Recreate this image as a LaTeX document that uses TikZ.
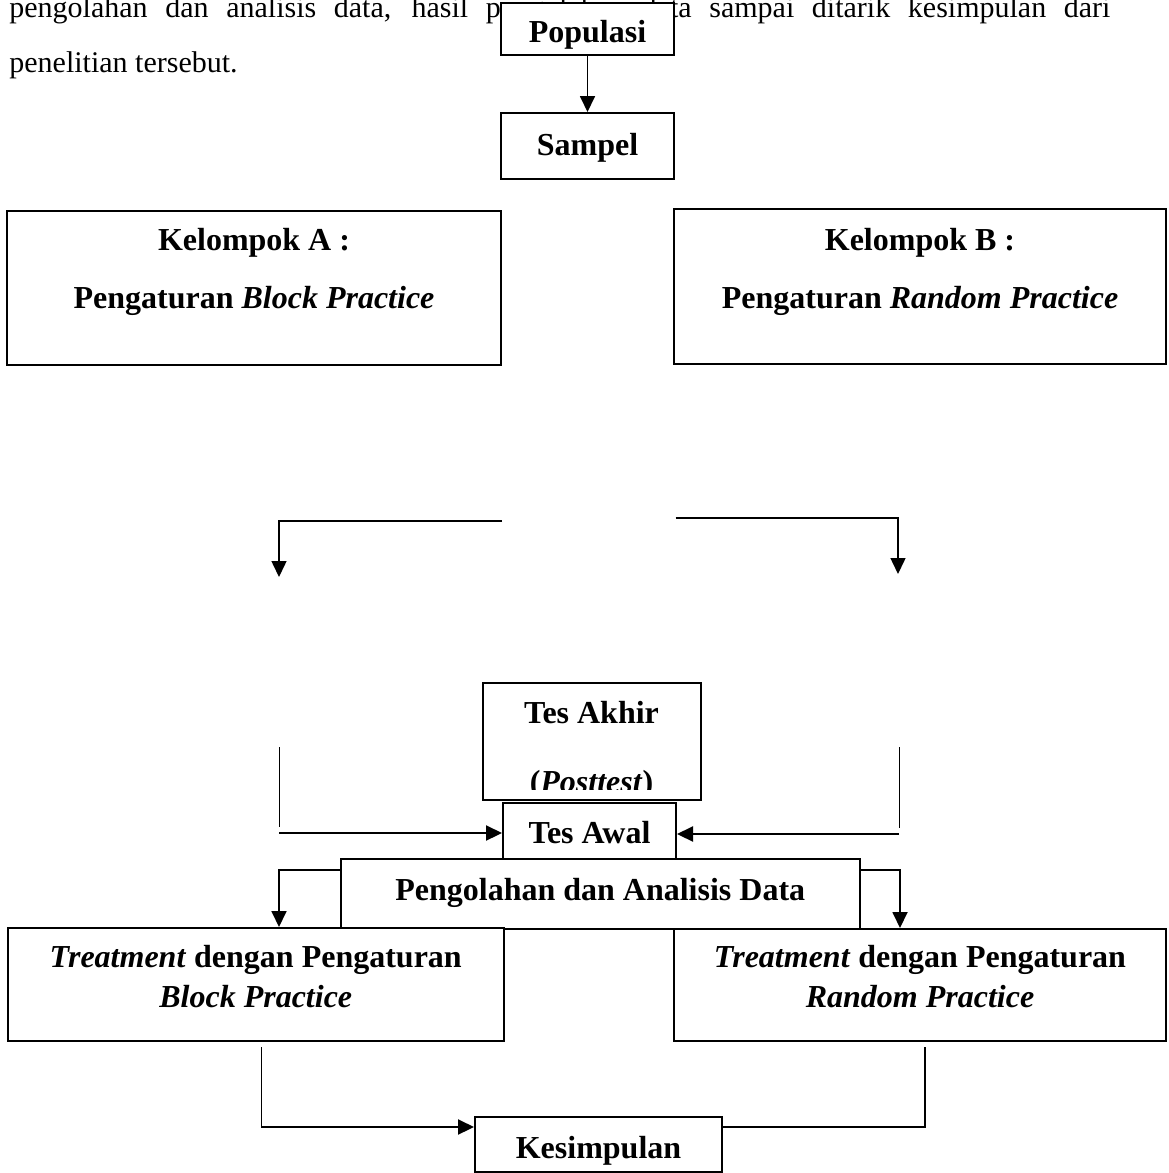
\documentclass[tikz,border=0pt]{standalone}
\usepackage{fontspec}
\setmainfont{Liberation Serif}
\usetikzlibrary{arrows.meta, fit}

\begin{document}
\begin{tikzpicture}[x=0.5pt, y=-0.5pt,
    kotak/.style={draw, rectangle, fill=white, line width=1pt, inner sep=0pt},
    teks/.style={anchor=base, inner sep=0pt, font=\fontsize{16}{19}\selectfont\bfseries},
    para/.style={anchor=base west, inner sep=0pt, font=\fontsize{15}{18}\selectfont},
    arr/.style={-{Triangle[length=8pt, width=7.5pt]}, line width=0.9pt},
    garis/.style={line width=0.5pt}]
    \useasboundingbox (0,0) rectangle (1168,1173);
    % teks paragraf di atas bagan
    \node[para] (par1) at (9,17) {\makebox[550.5pt][s]{pengolahan dan analisis data, hasil pengolahan data sampai ditarik kesimpulan dari}};
    \node[para] (par2) at (9,72) {penelitian tersebut.};
    % kotak
    \node[kotak, fit={(501,3) (674,55)}] (pop) {};
    \node[kotak, fit={(501,113) (674,179)}] (smp) {};
    \node[kotak, fit={(7,211) (501,365)}] (grpA) {};
    \node[kotak, fit={(674,209) (1166,364)}] (grpB) {};
    \node[kotak, fit={(482.5,682.5) (700.5,800)}] (akhir) {};
    \node[kotak, fit={(503,803) (676,861)}] (awal) {};
    \node[kotak, fit={(340.5,858.5) (860,929)}] (olah) {};
    \node[kotak, fit={(8,928) (503.5,1040.5)}] (trtA) {};
    \node[kotak, fit={(674,929) (1166,1040.5)}] (trtB) {};
    \node[kotak, fit={(475,1117) (722,1172)}] (simp) {};
    % isi kotak
    \node[teks] (popT) at (587.5,42) {Populasi};
    \node[teks] (smpT) at (587.5,155) {Sampel};
    \node[teks] (grpA1) at (254,250) {Kelompok A :};
    \node[teks] (grpA2) at (254,308) {Pengaturan \textit{Block Practice}};
    \node[teks] (grpB1) at (920,250) {Kelompok B :};
    \node[teks] (grpB2) at (920,308) {Pengaturan \textit{Random Practice}};
    \node[teks] (akhir1) at (591.5,723) {Tes Akhir};
    \begin{scope}
      \clip (482.5,682.5) rectangle (700.5,789.5);
      \node[teks] (akhir2) at (591.5,792) {(\textit{Posttest})};
    \end{scope}
    \node[teks] (awalT) at (589.5,843) {Tes Awal};
    \node[teks] (olahT) at (600.25,900) {Pengolahan dan Analisis Data};
    \node[teks] (trtA1) at (255.75,967) {\textit{Treatment} dengan Pengaturan};
    \node[teks] (trtA2) at (255.75,1007) {\textit{Block Practice}};
    \node[teks] (trtB1) at (920,967) {\textit{Treatment} dengan Pengaturan};
    \node[teks] (trtB2) at (920,1007) {\textit{Random Practice}};
    \node[teks] (simpT) at (598.5,1158) {Kesimpulan};
    % titik bebas
    \coordinate (cabL) at (502,521);
    \coordinate (panL) at (279,577);
    \coordinate (cabR) at (675.5,518);
    \coordinate (panR) at (898,574);
    \coordinate (atasL) at (279,747);
    \coordinate (bawahL) at (279,827);
    \coordinate (masukL) at (279,833);
    \coordinate (atasR) at (899,747);
    \coordinate (bawahR) at (899,828);
    \coordinate (masukR) at (899,834);
    \coordinate (naikL) at (261,1047);
    \coordinate (sudutL) at (261,1127);
    \coordinate (naikR) at (925,1047);
    % panah
    \draw[arr] (pop) -- (smp);
    \draw[arr, line width=0.75pt] (cabL) -| (panL);
    \draw[arr, line width=0.75pt] (cabR) -| (panR);
    \draw[garis] (atasL) -- (bawahL);
    \draw[garis] (atasR) -- (bawahR);
    \draw[arr, line width=1.1pt] (masukL) -- (awal.west |- masukL);
    \draw[arr, line width=1.1pt] (masukR) -- (awal.east |- masukR);
    \draw[arr] ([yshift=-6.25pt]olah.north west) -| (panL |- trtA.north);
    \draw[arr] ([yshift=-6.25pt]olah.north east) -| ([xshift=1pt]panR |- trtB.north);
    \draw[garis] (naikL) -- (sudutL);
    \draw[arr, line width=1.1pt] (sudutL) -- (simp.west |- sudutL);
    \draw[line width=1pt] (simp.east |- sudutL) -| (naikR);
\end{tikzpicture}
\end{document}
